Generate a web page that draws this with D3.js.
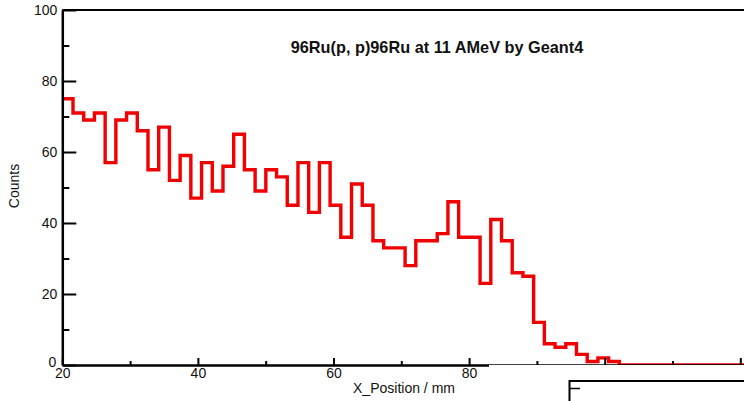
<!DOCTYPE html>
<html>
<head>
<meta charset="utf-8">
<script src="https://cdn.jsdelivr.net/npm/d3@7"></script>
<style>
  html, body { margin: 0; padding: 0; background: #fff; }
  svg { display: block; font-family: "Liberation Sans", Arial, sans-serif; }
</style>
</head>
<body>
<svg id="chart" width="744" height="401"></svg>
<script>
// ---- data ----
const title = "96Ru(p, p)96Ru at 11 AMeV by Geant4";
const xLabel = "X_Position / mm";
const yLabel = "Counts";
const binStart = 20;
const binWidth = 1.58;
const counts = [75,71,69,71,57,69,71,66,55,67,52,59,47,57,49,56,65,55,49,55,53,45,57,43,57,45,36,51,45,35,33,33,28,35,35,37,46,36,36,23,41,35,26,25,12,6,5,6,3,1,2,1];
const xMajorTicks = [20,40,60,80,100,120];
const xMinorTicks = [30,50,70,90,110,130];
const xTickLabels = [20,40,60,80];
const yMajorTicks = [0,20,40,60,80,100];
const yMinorTicks = [10,30,50,70,90];

// ---- layout ----
const svg = d3.select("#chart");
const plotLeft = 62.3, plotTop = 10, plotBottom = 365;
const x = d3.scaleLinear().domain([20, 130]).range([plotLeft, plotLeft + 110 * 6.78]);
const y = d3.scaleLinear().domain([0, 100]).range([plotBottom, plotTop]);

// histogram step line
const pts = counts.map((c, i) => [binStart + i * binWidth, c]);
pts.push([binStart + counts.length * binWidth, 0]);
pts.push([130, 0]);
const line = d3.line().x(d => x(d[0])).y(d => y(d[1])).curve(d3.curveStepAfter);
svg.append("path").attr("d", line(pts))
  .attr("fill", "none").attr("stroke", "#f00000").attr("stroke-width", 3.4)
  .attr("stroke-linejoin", "miter");

// frame top
svg.append("line").attr("x1", plotLeft).attr("x2", 744).attr("y1", y(100)).attr("y2", y(100))
  .attr("stroke", "#000").attr("stroke-width", 2);

// x axis (ticks inside)
const gx = svg.append("g").attr("transform", `translate(0,${plotBottom})`);
gx.call(d3.axisTop(x).tickValues(xMajorTicks).tickSize(7).tickSizeOuter(0).tickFormat(""));
gx.append("g").call(d3.axisTop(x).tickValues(xMinorTicks).tickSize(4).tickSizeOuter(0).tickFormat(""))
  .select(".domain").remove();
gx.selectAll(".domain").attr("stroke-width", 2.5);
gx.selectAll(".tick line").attr("stroke-width", 2);
const gxl = svg.append("g").attr("transform", `translate(0,${plotBottom})`);
gxl.call(d3.axisBottom(x).tickValues(xTickLabels).tickSize(0).tickPadding(3).tickFormat(d3.format("d")));
gxl.select(".domain").remove();
gxl.selectAll("text").attr("font-size", 14).attr("fill", "#111").attr("font-family", "Liberation Sans, Arial, sans-serif");

// y axis (ticks inside)
const gy = svg.append("g").attr("transform", `translate(${plotLeft},0)`);
gy.call(d3.axisRight(y).tickValues(yMajorTicks).tickSize(14).tickSizeOuter(0).tickFormat(""));
gy.append("g").call(d3.axisRight(y).tickValues(yMinorTicks).tickSize(7).tickSizeOuter(0).tickFormat(""))
  .select(".domain").remove();
gy.selectAll(".domain").attr("stroke-width", 2.5);
gy.selectAll(".tick line").attr("stroke-width", 2);
const gyl = svg.append("g").attr("transform", `translate(${plotLeft},0)`);
gyl.call(d3.axisLeft(y).tickValues(yMajorTicks).tickSize(0).tickPadding(5).tickFormat(d3.format("d")));
gyl.select(".domain").remove();
gyl.selectAll("text").attr("font-size", 14).attr("fill", "#111").attr("font-family", "Liberation Sans, Arial, sans-serif");
gyl.selectAll(".tick").filter(d => d === 0).select("text").attr("dy", "0.1em").attr("x", -6);

// white overlay (stats pad area) on lower right
svg.append("rect").attr("x", 489).attr("y", 365).attr("width", 260).attr("height", 40).attr("fill", "#fff");
svg.append("rect").attr("x", 569.5).attr("y", 381).attr("width", 200).attr("height", 40)
  .attr("fill", "#fff").attr("stroke", "#000").attr("stroke-width", 2);
svg.append("line").attr("x1", 569.5).attr("x2", 580).attr("y1", 388.5).attr("y2", 388.5)
  .attr("stroke", "#000").attr("stroke-width", 1.5);

// title
svg.append("text").attr("x", 437).attr("y", 53).attr("text-anchor", "middle")
  .attr("font-size", 16.3).attr("font-weight", "bold").attr("fill", "#111").text(title);

// axis titles
svg.append("text").attr("x", 404).attr("y", 393).attr("text-anchor", "middle")
  .attr("font-size", 14).attr("fill", "#111").text(xLabel);
svg.append("text").attr("transform", "translate(19,186) rotate(-90)").attr("text-anchor", "middle")
  .attr("font-size", 14).attr("fill", "#111").text(yLabel);
</script>
</body>
</html>
